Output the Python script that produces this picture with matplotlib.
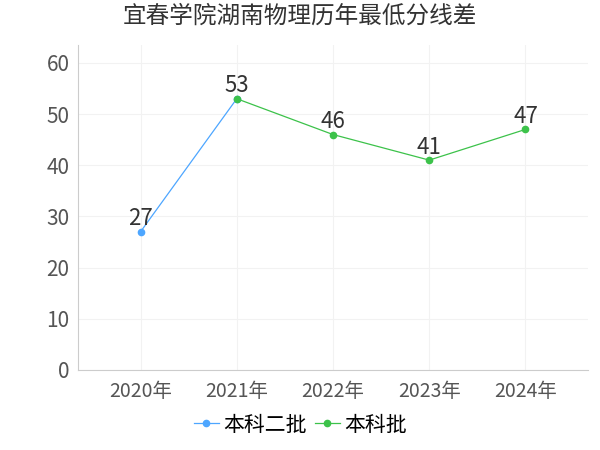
import matplotlib.pyplot as plt

plt.rcParams['font.family'] = ['Noto Sans CJK SC', 'DejaVu Sans']

years = ["2020年", "2021年", "2022年", "2023年", "2024年"]
batch2_x = [0, 1]
batch2_y = [27, 53]
batch_x = [1, 2, 3, 4]
batch_y = [53, 46, 41, 47]

fig = plt.figure(figsize=(6, 4.5), dpi=100)
ax = fig.add_axes([0.13, 0.178, 0.85, 0.722])

blue, green = "#4da6ff", "#3cc24a"
ax.plot(batch2_x, batch2_y, color=blue, lw=0.9, marker="o", ms=4.5, label="本科二批")
ax.plot(batch_x, batch_y, color=green, lw=0.9, marker="o", ms=4.5, label="本科批")

labels = {0: 27, 1: 53, 2: 46, 3: 41, 4: 47}
for x, v in labels.items():
    ax.text(x, v + 0.3, str(v), ha="center", va="bottom", fontsize=16, color="#333333")

ax.set_xlim(-0.65, 4.65)
ax.set_ylim(0, 63.5)
ax.set_yticks(range(0, 61, 10))
ax.set_xticks(range(len(years)))
ax.set_xticklabels(years)
ax.tick_params(axis="y", labelsize=15, colors="#555555", length=0, pad=6)
ax.tick_params(axis="x", labelsize=14, colors="#555555", length=0, pad=8)
ax.grid(True, color="#f2f2f2", lw=0.8)
for s in ["top", "right"]:
    ax.spines[s].set_visible(False)
for s in ["left", "bottom"]:
    ax.spines[s].set_color("#cccccc")

fig.suptitle("宜春学院湖南物理历年最低分线差", fontsize=17, y=0.99, color="#333333")
fig.legend(loc="lower center", ncol=2, frameon=False, fontsize=15,
           bbox_to_anchor=(0.5, -0.01), handlelength=1.2, handletextpad=0.2,
           columnspacing=0.4)

fig.savefig("out.png", dpi=100)
